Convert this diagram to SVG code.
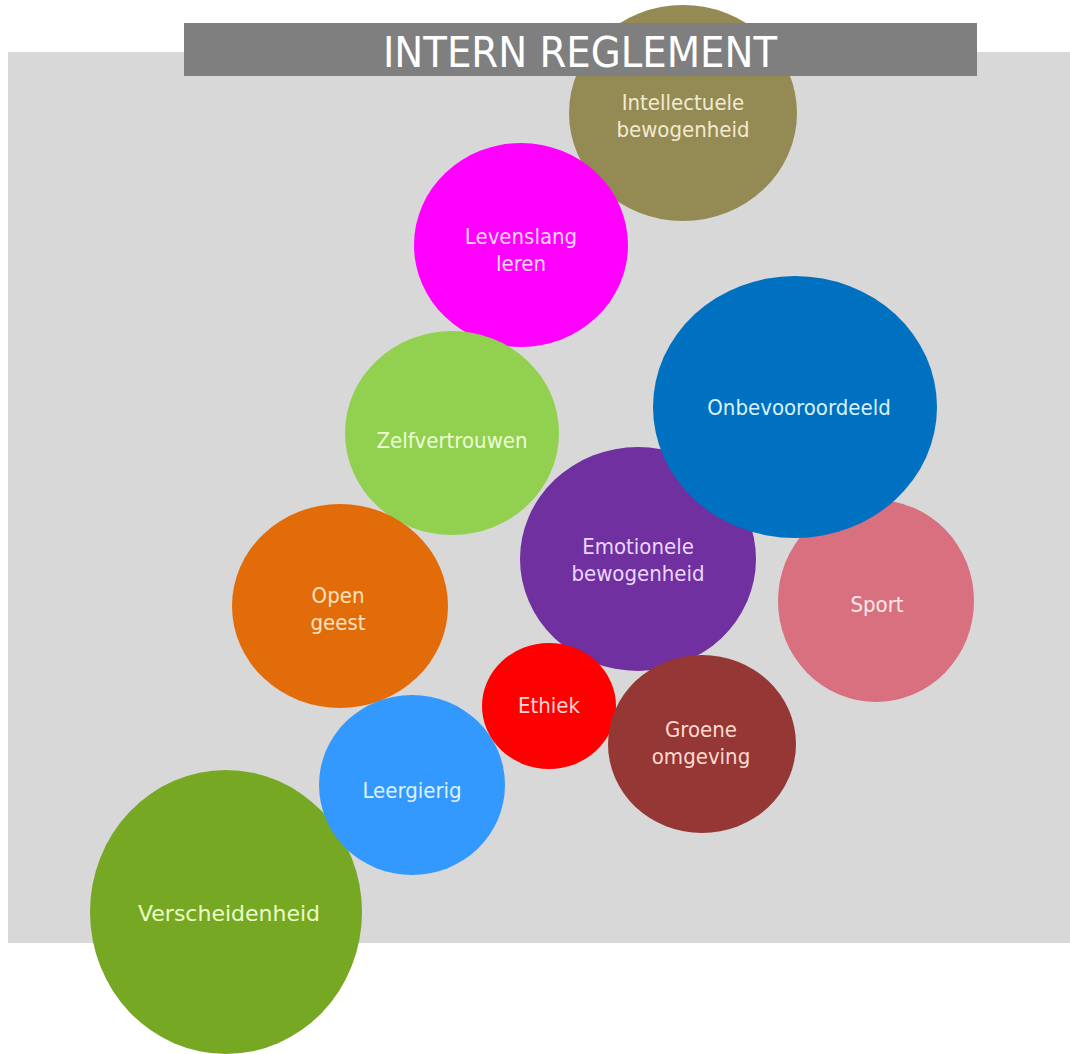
<svg xmlns="http://www.w3.org/2000/svg" width="1070" height="1054" viewBox="0 0 1070 1054">
<style>
.lbl{font-family:"DejaVu Sans Condensed","DejaVu Sans",sans-serif;font-stretch:condensed;font-size:22px;text-anchor:middle}
.wide{font-family:"DejaVu Sans",sans-serif;font-stretch:normal;font-size:22px;text-anchor:middle}
.title{font-family:"DejaVu Sans Condensed","DejaVu Sans",sans-serif;font-stretch:condensed;font-size:43px;text-anchor:middle;fill:#ffffff}
</style>
<rect x="0" y="0" width="1070" height="1054" fill="#ffffff"/>
<rect id="background" x="8" y="52" width="1062" height="891" fill="#d8d8d8"/>
<g id="intellectuele">
<ellipse cx="683" cy="113" rx="114" ry="108" fill="#948a54"/>
<text class="lbl" fill="#f2ead0"><tspan x="683" y="110">Intellectuele</tspan><tspan x="683" y="137">bewogenheid</tspan></text>
</g>
<g id="title">
<rect x="184" y="23" width="793" height="53" fill="#7f7f7f"/>
<text class="title" x="580" y="67">INTERN REGLEMENT</text>
</g>
<g id="levenslang">
<ellipse cx="521" cy="245" rx="107" ry="102" fill="#ff00ff"/>
<text class="lbl" fill="#ffd6ff"><tspan x="521" y="244">Levenslang</tspan><tspan x="521" y="271">leren</tspan></text>
</g>
<g id="zelfvertrouwen">
<ellipse cx="452" cy="433" rx="107" ry="102" fill="#92d050"/>
<text class="lbl" fill="#ecffd6" x="452" y="448">Zelfvertrouwen</text>
</g>
<g id="opengeest">
<ellipse cx="340" cy="606" rx="108" ry="102" fill="#e36c0a"/>
<text class="lbl" fill="#ffe2bf"><tspan x="338" y="603">Open</tspan><tspan x="338" y="630">geest</tspan></text>
</g>
<g id="verscheidenheid">
<ellipse cx="226" cy="912" rx="136" ry="142" fill="#77a824"/>
<text class="wide" fill="#eaffc4" x="229" y="921">Verscheidenheid</text>
</g>
<g id="leergierig">
<ellipse cx="412" cy="785" rx="93" ry="90" fill="#3399ff"/>
<text class="lbl" fill="#ddf2ff" x="412" y="798">Leergierig</text>
</g>
<g id="sport">
<ellipse cx="876" cy="601" rx="98" ry="101" fill="#d9707f"/>
<text class="lbl" fill="#ffe8ea" x="877" y="612">Sport</text>
</g>
<g id="emotionele">
<ellipse cx="638" cy="559" rx="118" ry="112" fill="#7030a0"/>
<text class="lbl" fill="#ead6ff"><tspan x="638" y="554">Emotionele</tspan><tspan x="638" y="581">bewogenheid</tspan></text>
</g>
<g id="onbevooroordeeld">
<ellipse cx="795" cy="407" rx="142" ry="131" fill="#0070c0"/>
<text class="lbl" fill="#d6f2ff" x="799" y="415">Onbevooroordeeld</text>
</g>
<g id="ethiek">
<ellipse cx="549" cy="706" rx="67" ry="63" fill="#ff0000"/>
<text class="lbl" fill="#ffd6d6" x="549" y="713">Ethiek</text>
</g>
<g id="groene">
<ellipse cx="702" cy="744" rx="94" ry="89" fill="#953735"/>
<text class="lbl" fill="#ffd9d0"><tspan x="701" y="737">Groene</tspan><tspan x="701" y="764">omgeving</tspan></text>
</g>
<g id="connectors"/>
</svg>
